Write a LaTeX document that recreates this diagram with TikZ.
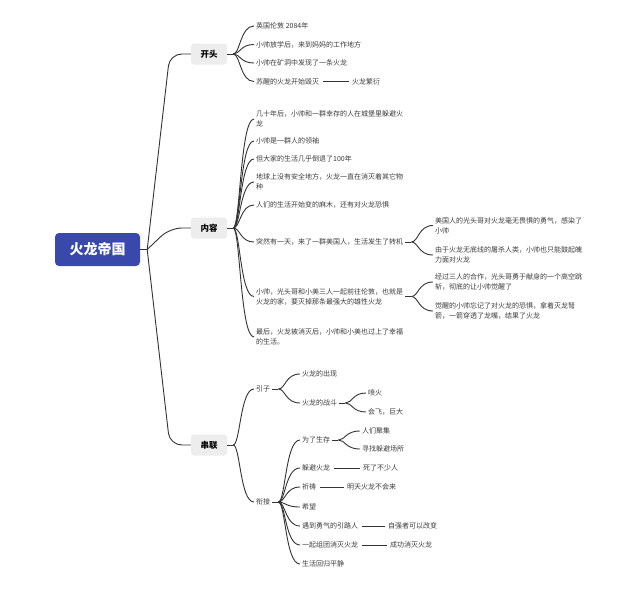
\documentclass[tikz,border=0pt]{standalone}
\usepackage{fontspec}
\usepackage{tikz}
\usetikzlibrary{calc}
\newfontfamily\cjk{Noto Sans CJK SC}
\definecolor{mm-blue}{HTML}{3949AB}
\definecolor{mm-gray}{HTML}{EDEDED}
\definecolor{mm-line}{HTML}{333333}
\definecolor{mm-text}{HTML}{3C3C3C}
\newcommand\fan[2]{\draw[branch] (#1) .. controls ($(#1)+(7,0)$) and ($(#1 |- #2.west)+(7,0)$) .. (#2.west);}

\begin{document}
\begin{tikzpicture}[x=1pt, y=-1pt,
    branch/.style={draw=mm-line, line width=0.9pt},
    solo/.style={branch, shorten <=1.5pt, shorten >=1.5pt},
    root/.style={fill=mm-blue, text=white, rounded corners=4pt, inner sep=0pt,
        minimum width=85pt, minimum height=33pt, font=\cjk\bfseries\fontsize{14}{16}\selectfont},
    topic/.style={fill=mm-gray, text=black, rounded corners=3pt, inner sep=0pt,
        minimum width=36pt, minimum height=21pt, font=\cjk\bfseries\fontsize{8.5}{10}\selectfont},
    leaf/.style={anchor=west, inner xsep=2pt, inner ysep=1pt, align=left, text=mm-text,
        font=\cjk\fontsize{7}{10}\selectfont}]
    \useasboundingbox[fill=white] (0,0) rectangle (640,589);

    \node[root] (root) at (97.5,249.5) {火龙帝国};
    \node[topic] (kt) at (209,54) {开头};
    \node[topic] (nr) at (209,228) {内容};
    \node[topic] (cl) at (209,445) {串联};
    \draw[branch] (root.east) -- ++(7,0) coordinate (rj);
    \foreach \tp in {kt,nr,cl}{
        \draw[branch, rounded corners=12pt] (rj) -- ($(\tp.west)+(-21,0)$) -- (\tp.west);
    }

    \node[leaf] (k1) at (254,26) {英国伦敦 2084年};
    \node[leaf] (k2) at (254,44.5) {小帅放学后，来到妈妈的工作地方};
    \node[leaf] (k3) at (254,63) {小帅在矿洞中发现了一条火龙};
    \node[leaf] (k4) at (254,81.5) {苏醒的火龙开始毁灭};
    \node[leaf] (k4a) at (350,81.5) {火龙繁衍};
    \draw[branch] (kt.east) -- ++(6,0) coordinate (ktj);
    \foreach \ch in {k1,k2,k3,k4}{\fan{ktj}{\ch}}
    \draw[solo] (k4.east) -- (k4a.west);

    \node[leaf] (n1) at (254,119) {几十年后，小帅和一群幸存的人在城堡里躲避火\\龙};
    \node[leaf] (n2) at (254,141) {小帅是一群人的领袖};
    \node[leaf] (n3) at (254,159) {但大家的生活几乎倒退了100年};
    \node[leaf] (n4) at (254,182) {地球上没有安全地方，火龙一直在消灭着其它物\\种};
    \node[leaf] (n5) at (254,205) {人们的生活开始变的麻木，还有对火龙恐惧};
    \node[leaf] (n6) at (254,242) {突然有一天，来了一群美国人，生活发生了转机};
    \node[leaf] (n7) at (254,296.5) {小帅，光头哥和小美三人一起前往伦敦，也就是\\火龙的家，要灭掉那条最强大的雄性火龙};
    \node[leaf] (n8) at (254,337) {最后，火龙被消灭后，小帅和小美也过上了幸福\\的生活。};
    \node[leaf] (n6a) at (433,225.5) {美国人的光头哥对火龙毫无畏惧的勇气，感染了\\小帅};
    \node[leaf] (n6b) at (433,255) {由于火龙无底线的屠杀人类，小帅也只能鼓起魄\\力面对火龙};
    \node[leaf] (n7a) at (433,282) {经过三人的合作，光头哥勇于献身的一个高空跳\\斩，彻底的让小帅觉醒了};
    \node[leaf] (n7b) at (433,311) {觉醒的小帅忘记了对火龙的恐惧，拿着灭龙弩\\箭，一箭穿透了龙嘴，结果了火龙};
    \draw[branch] (nr.east) -- ++(6,0) coordinate (nrj);
    \foreach \ch in {n1,n2,n3,n4,n5,n6,n7,n8}{\fan{nrj}{\ch}}
    \draw[branch] (n6.east) -- ++(6,0) coordinate (n6j);
    \foreach \ch in {n6a,n6b}{\fan{n6j}{\ch}}
    \draw[branch] (n7.east |- n7.center) -- ++(6,0) coordinate (n7j);
    \foreach \ch in {n7a,n7b}{\fan{n7j}{\ch}}

    \node[leaf] (c1) at (254,389) {引子};
    \node[leaf] (c2) at (254,502) {衔接};
    \node[leaf] (c11) at (300,374) {火龙的出现};
    \node[leaf] (c12) at (300,403) {火龙的战斗};
    \node[leaf] (c121) at (366,393) {喷火};
    \node[leaf] (c122) at (366,412) {会飞，巨大};
    \node[leaf] (c21) at (300,440) {为了生存};
    \node[leaf] (c211) at (360,431) {人们聚集};
    \node[leaf] (c212) at (360,449) {寻找躲避场所};
    \node[leaf] (c22) at (300,468) {躲避火龙};
    \node[leaf] (c22a) at (361,468) {死了不少人};
    \node[leaf] (c23) at (300,487) {祈祷};
    \node[leaf] (c23a) at (345,487) {明天火龙不会来};
    \node[leaf] (c24) at (300,507) {希望};
    \node[leaf] (c25) at (300,526) {遇到勇气的引路人};
    \node[leaf] (c25a) at (386,526) {自强者可以改变};
    \node[leaf] (c26) at (300,545) {一起组团消灭火龙};
    \node[leaf] (c26a) at (388,545) {成功消灭火龙};
    \node[leaf] (c27) at (300,564) {生活回归平静};
    \draw[branch] (cl.east) -- ++(6,0) coordinate (clj);
    \foreach \ch in {c1,c2}{\fan{clj}{\ch}}
    \draw[branch] (c1.east) -- ++(6,0) coordinate (c1j);
    \foreach \ch in {c11,c12}{\fan{c1j}{\ch}}
    \draw[branch] (c12.east) -- ++(6,0) coordinate (c12j);
    \foreach \ch in {c121,c122}{\fan{c12j}{\ch}}
    \draw[branch] (c2.east) -- ++(6,0) coordinate (c2j);
    \foreach \ch in {c21,c22,c23,c24,c25,c26,c27}{\fan{c2j}{\ch}}
    \draw[branch] (c21.east) -- ++(6,0) coordinate (c21j);
    \foreach \ch in {c211,c212}{\fan{c21j}{\ch}}
    \draw[solo] (c22.east) -- (c22a.west);
    \draw[solo] (c23.east) -- (c23a.west);
    \draw[solo] (c25.east) -- (c25a.west);
    \draw[solo] (c26.east) -- (c26a.west);
\end{tikzpicture}
\end{document}
